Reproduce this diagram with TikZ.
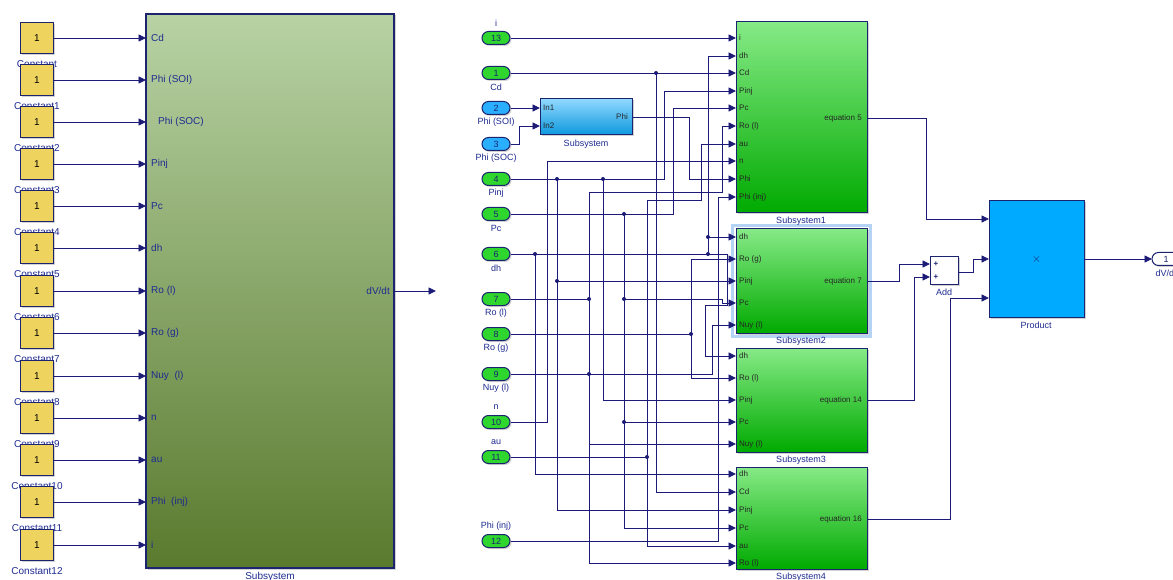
\documentclass[tikz,border=0pt]{standalone}
\usepackage{fontspec}
\setmainfont{Liberation Sans}
\usetikzlibrary{arrows.meta,shadows}
\definecolor{wirec}{HTML}{1C1C78}
\definecolor{bdr}{HTML}{1C2470}
\definecolor{lbl}{HTML}{1E2B90}
\definecolor{cyel}{HTML}{EED45E}
\definecolor{bigtop}{HTML}{B8D2A4}
\definecolor{bigbot}{HTML}{5A7A2E}
\definecolor{gtop}{HTML}{86EA86}
\definecolor{gbot}{HTML}{00AA00}
\definecolor{btop}{HTML}{90D8FF}
\definecolor{bbot}{HTML}{0C98DD}
\definecolor{inpg}{HTML}{2ED62E}
\definecolor{inpb}{HTML}{2AAFFF}
\definecolor{prodc}{HTML}{00AAFF}
\definecolor{selc}{HTML}{B5D3F5}
\tikzset{
  wire/.style={draw=wirec, line width=0.9pt},
  arr/.style={wire, -{Triangle[length=7.5pt,width=7pt]}},
  jdot/.style={circle, fill=wirec, inner sep=0pt, minimum size=4pt},
  shad/.style={drop shadow={shadow xshift=1.5pt, shadow yshift=-1.5pt, opacity=0.35, fill=gray}},
  constbox/.style={shad, draw=bdr, line width=1.1pt, fill=cyel, minimum width=33pt, minimum height=31pt, inner sep=0pt, font=\fontsize{10}{11}\selectfont},
  blabel/.style={text=lbl, font=\fontsize{9}{10}\selectfont, inner sep=0pt},
  clabel/.style={text=lbl, font=\fontsize{10}{11}\selectfont, inner sep=0pt},
  bigport/.style={text=lbl, font=\fontsize{10}{11}\selectfont, anchor=west, inner sep=0pt},
  gport/.style={text=black!85, font=\fontsize{8}{8.5}\selectfont, anchor=west, inner sep=0pt},
  gout/.style={text=black!85, font=\fontsize{8}{8.5}\selectfont, anchor=east, inner sep=0pt},
  inport/.style={shad, draw=bdr, line width=1pt, rounded corners=6.5pt, minimum width=28pt, minimum height=13pt, inner sep=0pt, font=\fontsize{9}{10}\selectfont, text=bdr},
  gsub/.style={shad, draw=bdr, line width=1pt, top color=gtop, bottom color=gbot, minimum width=131pt, inner sep=0pt},
}
\begin{document}
\begin{tikzpicture}[x=1pt,y=-1pt]
\useasboundingbox (0,0) rectangle (1173,580);
\clip (0,0) rectangle (1173,580);
\fill[white] (0,0) rectangle (1173,580);

% ---------- left part ----------
\node[shad, draw=bdr, line width=1.2pt, top color=bigtop, bottom color=bigbot, minimum width=248pt, minimum height=554pt, inner sep=0pt] (big) at (270,291) {};
\node[clabel] (bigname) at (270,577) {Subsystem};

\foreach \y/\cl [count=\k from 0] in {38/Constant,80/Constant1,122/Constant2,164/Constant3,206/Constant4,248/Constant5,291/Constant6,333/Constant7,376/Constant8,418/Constant9,460/Constant10,502/Constant11,545/Constant12}{
  \node[clabel] (cl\k) at (37,\y+26) {\cl};
}
\foreach \y/\pl [count=\k from 0] in {38/Cd,80/Phi (SOI),122/\hspace{7pt}Phi (SOC),164/Pinj,206/Pc,248/dh,291/Ro (l),333/Ro (g),376/Nuy~ (l),418/n,460/au,502/Phi~ (inj),545/i}{
  \node[constbox] (c\k) at (37,\y) {1};
  \coordinate (bp\k) at (146,\y);
  \draw[arr] (c\k) -- (bp\k);
  \node[bigport] (bl\k) at (151,\y) {\pl};
}
\coordinate (bigout) at (394,291);
\coordinate (bigend) at (436,291);
\draw[arr] (bigout) -- (bigend);
\node[bigport, anchor=east] (bigoutl) at (390,291) {dV/dt};

% ---------- inports ----------
\foreach \n/\y/\c in {13/38/inpg,1/73/inpg,2/108/inpb,3/144/inpb,4/179/inpg,5/214/inpg,6/254/inpg,7/299/inpg,8/334/inpg,9/374/inpg,10/422/inpg,11/457/inpg,12/541/inpg}{
  \node[inport, fill=\c] (in\n) at (496,\y) {\n};
}
\foreach \y/\t [count=\k] in {23/i,87/Cd,122/Phi (SOI),158/Phi (SOC),193/Pinj,228/Pc,268/dh,313/Ro (l),348/Ro (g),388/Nuy (l),407/n,442/au,526/Phi (inj)}{
  \node[blabel] (inl\k) at (496,\y) {\t};
}

% ---------- small subsystem ----------
\node[shad, draw=bdr, line width=1pt, top color=btop, bottom color=bbot, minimum width=92pt, minimum height=36pt, inner sep=0pt] (ss) at (586,117) {};
\node[gport] (ssl1) at (543,108) {In1};
\node[gport] (ssl2) at (543,126) {In2};
\node[gout] (ssl3) at (628,117) {Phi};
\node[blabel] (ssname) at (586,144) {Subsystem};
\coordinate (ssin1) at (540,108);
\coordinate (ssin2) at (540,126);
\coordinate (ssout) at (632,117);

% ---------- green subsystems ----------
\draw[selc, line width=2.5pt] (732.5,225.5) rectangle (870.5,336.5);
\node[gsub, minimum height=191pt] (s1) at (801.5,117.5) {};
\node[gsub, minimum height=104pt] (s2) at (801.5,281) {};
\node[gsub, minimum height=104pt] (s3) at (801.5,400) {};
\node[gsub, minimum height=102pt] (s4) at (801.5,518) {};
\foreach \y/\t/\nm in {38/i/s1i,56/dh/s1dh,73/Cd/s1cd,91/Pinj/s1pinj,108/Pc/s1pc,126/Ro (l)/s1rol,144/au/s1au,161/n/s1n,179/Phi/s1phi,197/Phi (inj)/s1phiinj,
  237/dh/s2dh,259/Ro (g)/s2rog,281/Pinj/s2pinj,303/Pc/s2pc,325/Nuy (l)/s2nuy,
  356/dh/s3dh,378/Ro (l)/s3rol,400/Pinj/s3pinj,422/Pc/s3pc,444/Nuy (l)/s3nuy,
  474/dh/s4dh,492/Cd/s4cd,510/Pinj/s4pinj,528/Pc/s4pc,546/au/s4au,563/Ro (l)/s4rol}{
  \coordinate (\nm) at (736,\y);
  \node[gport] (\nm t) at (739,\y) {\t};
}
\node[gout] (s1ol) at (862,118) {equation 5};
\node[gout] (s2ol) at (862,281) {equation 7};
\node[gout] (s3ol) at (862,400) {equation 14};
\node[gout] (s4ol) at (862,519) {equation 16};
\node[blabel] (s1name) at (801,221) {Subsystem1};
\node[blabel] (s2name) at (801,341) {Subsystem2};
\node[blabel] (s3name) at (801,460) {Subsystem3};
\node[blabel] (s4name) at (801,577) {Subsystem4};
\coordinate (s1o) at (867,118);
\coordinate (s2o) at (867,281);
\coordinate (s3o) at (867,400);
\coordinate (s4o) at (867,519);

% ---------- right part ----------
\node[shad, draw=bdr, line width=1pt, fill=white, minimum width=28pt, minimum height=27pt, inner sep=0pt] (add) at (944,270.5) {};
\node[text=bdr, font=\fontsize{8}{8}\bfseries, inner sep=0pt] (addp1) at (936,264) {+};
\node[text=bdr, font=\fontsize{8}{8}\bfseries, inner sep=0pt] (addp2) at (936,277) {+};
\node[blabel] (addname) at (944,292) {Add};
\node[shad, draw=bdr, line width=1pt, fill=prodc, minimum width=95pt, minimum height=116pt, inner sep=0pt, text=bdr, font=\fontsize{12}{12}\selectfont] (prod) at (1036.5,259) {$\times$};
\node[blabel] (prodname) at (1036,325) {Product};
\node[inport, fill=white] (out1) at (1166,259) {1};
\node[blabel] (outname) at (1166,273) {dV/dt};
\coordinate (addin1) at (930,264);
\coordinate (addin2) at (930,277);
\coordinate (addout) at (958,272);
\coordinate (pin1) at (989,219);
\coordinate (pin2) at (989,259);
\coordinate (pin3) at (989,298);
\coordinate (pout) at (1084,259);
\coordinate (outin) at (1152,259);

% ---------- junction coordinates ----------
\coordinate (jcd) at (656,73);
\coordinate (jp1) at (557,179);
\coordinate (jp2) at (603,179);
\coordinate (jp3) at (557,281);
\coordinate (jpc1) at (624,214);
\coordinate (jpc2) at (624,299);
\coordinate (jpc3) at (624,422);
\coordinate (jdh1) at (535,254);
\coordinate (jdh2) at (708,254);
\coordinate (jdh3) at (708,237);
\coordinate (jrl) at (589,299);
\coordinate (jrg) at (691,334);
\coordinate (jnu) at (589,374);
\coordinate (jau) at (647,457);

% ---------- wires ----------
\draw[arr] (in13) -- (s1i);
\draw[arr] (in1) -- (s1cd);
\draw[arr] (jcd) |- (s4cd);
\draw[arr] (in2) -- (ssin1);
\draw[arr] (in3) -- (519,144) |- (ssin2);
\draw[arr] (ssout) -- (689,117) |- (s1phi);
\draw[arr] (in4) -- (664,179) |- (s1pinj);
\draw[arr] (jp1) |- (s4pinj);
\draw[arr] (jp3) -- (s2pinj);
\draw[arr] (jp2) |- (s3pinj);
\draw[arr] (in5) -- (673,214) |- (s1pc);
\draw[arr] (jpc1) |- (s4pc);
\draw[arr] (jpc2) -- (722,299) |- (s2pc);
\draw[arr] (jpc3) -- (s3pc);
\draw[wire] (in6) -- (jdh2);
\draw[arr] (jdh1) |- (s4dh);
\draw[arr] (jdh2) |- (s1dh);
\draw[arr] (jdh3) -- (s2dh);
\draw[arr] (jdh2) -- (727,254) -- (727,305) -- (705,305) |- (s3dh);
\draw[wire] (in7) -- (jrl);
\draw[arr] (jrl) -- (589,192) -- (722,192) |- (s1rol);
\draw[arr] (jrl) |- (s4rol);
\draw[arr] (jnu) |- (s3nuy);
\draw[wire] (in8) -- (jrg);
\draw[arr] (jrg) |- (s2rog);
\draw[arr] (jrg) |- (s3rol);
\draw[arr] (in9) -- (712,374) |- (s2nuy);
\draw[arr] (in10) -- (547,422) |- (s1n);
\draw[wire] (in11) -- (jau);
\draw[arr] (jau) -- (647,200) -- (701,200) |- (s1au);
\draw[arr] (jau) |- (s4au);
\draw[arr] (in12) -- (718,541) |- (s1phiinj);

\draw[arr] (s1o) -- (926,118) |- (pin1);
\draw[arr] (s2o) -- (899,281) |- (addin1);
\draw[arr] (s3o) -- (914,400) |- (addin2);
\draw[arr] (addout) -- (973,272) |- (pin2);
\draw[arr] (s4o) -- (950,519) |- (pin3);
\draw[arr] (pout) -- (outin);

\foreach \j in {jcd,jp1,jp2,jp3,jpc1,jpc2,jpc3,jdh1,jdh2,jdh3,jrl,jrg,jnu,jau}{
  \node[jdot] (\j d) at (\j) {};
}
\end{tikzpicture}
\end{document}
